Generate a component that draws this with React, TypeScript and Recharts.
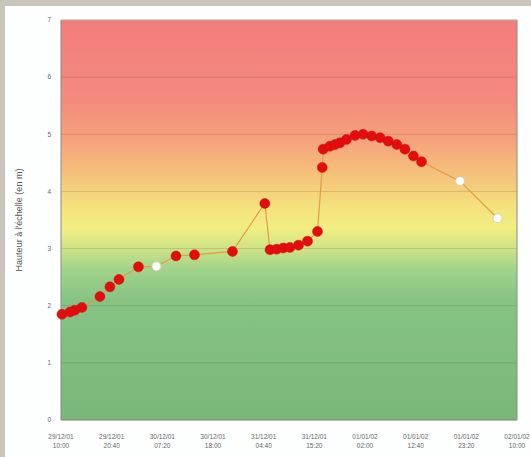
import { CartesianGrid, ComposedChart, Line, ReferenceLine, XAxis, YAxis } from "recharts";

// hours since 29/12/01 10:00, water level (m), and whether the reading is an estimate (white dot)
const hours = [
  0.2, 1.9, 2.9, 4.4, 8.2, 10.3, 12.2, 16.3, 20.1, 24.2, 28.1, 36.1, 42.9, 44, 45.4, 46.8, 48.2, 50,
  51.9, 54, 55, 55.2, 56.6, 57.7, 58.7, 60.1, 61.9, 63.6, 65.4, 67.2, 68.9, 70.7, 72.4, 74.2, 75.9,
  84, 91.9,
];
const levels = [
  1.85, 1.89, 1.92, 1.97, 2.16, 2.33, 2.46, 2.68, 2.69, 2.87, 2.89, 2.95, 3.79, 2.98, 2.99, 3.01,
  3.02, 3.06, 3.13, 3.3, 4.42, 4.74, 4.79, 4.82, 4.85, 4.91, 4.98, 5.0, 4.97, 4.94, 4.88, 4.82, 4.74,
  4.62, 4.52, 4.18, 3.53,
];
const estimated = [8, 35, 36];

const xTickLabels = [
  ["29/12/01", "10:00"],
  ["29/12/01", "20:40"],
  ["30/12/01", "07:20"],
  ["30/12/01", "18:00"],
  ["31/12/01", "04:40"],
  ["31/12/01", "15:20"],
  ["01/01/02", "02:00"],
  ["01/01/02", "12:40"],
  ["01/01/02", "23:20"],
  ["02/01/02", "10:00"],
];
const xTicks = xTickLabels.map((_, i) => (i * 96) / 9);
const yTicks = [0, 1, 2, 3, 4, 5, 6, 7];

const data = hours.map((h, i) => ({ h, level: levels[i], est: estimated.includes(i) }));

function XTick({ x, y, index }: any) {
  const [d, t] = xTickLabels[index] ?? ["", ""];
  return (
    <g transform={`translate(${x},${y})`}>
      <text textAnchor="middle" y={11} fontSize={6.5} fill="#666">
        {d}
      </text>
      <text textAnchor="middle" y={20} fontSize={6.5} fill="#666">
        {t}
      </text>
    </g>
  );
}

function Dot({ cx, cy, payload }: any) {
  if (cx == null || cy == null) return null;
  return payload.est ? (
    <circle cx={cx} cy={cy} r={4.5} fill="#ffffff" stroke="#d8d0c0" strokeWidth={1} />
  ) : (
    <circle cx={cx} cy={cy} r={5} fill="#e30d0d" stroke="#cc1010" strokeWidth={0.5} />
  );
}

function YLabel({ viewBox }: any) {
  const cx = 15;
  const cy = viewBox.y + viewBox.height / 2;
  return (
    <text
      x={cx}
      y={cy}
      transform={`rotate(-90 ${cx} ${cy})`}
      textAnchor="middle"
      dominantBaseline="middle"
      fontSize={9}
      fill="#555"
    >
      Hauteur à l'échelle (en m)
    </text>
  );
}

export default function App() {
  return (
    <div
      style={{
        position: "absolute",
        left: 0,
        top: 0,
        width: 531,
        height: 457,
        background: "#c9c5bb",
        fontFamily: "Arial, 'Liberation Sans', sans-serif",
      }}
    >
      <div style={{ position: "absolute", left: 5, top: 6, width: 526, height: 451, background: "#fdfefe" }}>
        <ComposedChart width={526} height={451} data={data} margin={{ top: 14, right: 14, bottom: 5, left: 0 }}>
          <defs>
            <linearGradient id="zones" x1="0" y1="0" x2="0" y2="1">
              <stop offset="0" stopColor="#f47c7d" />
              <stop offset="0.2" stopColor="#f48a7e" />
              <stop offset="0.3" stopColor="#f5a27c" />
              <stop offset="0.38" stopColor="#f5bf7a" />
              <stop offset="0.47" stopColor="#f4e37e" />
              <stop offset="0.52" stopColor="#f1ee82" />
              <stop offset="0.57" stopColor="#cfe486" />
              <stop offset="0.62" stopColor="#a4d48a" />
              <stop offset="0.7" stopColor="#86c484" />
              <stop offset="1" stopColor="#79b679" />
            </linearGradient>
          </defs>
          <CartesianGrid
            vertical={false}
            fill="url(#zones)"
            fillOpacity={1}
            stroke="rgba(90,60,40,0.18)"
            strokeWidth={1}
          />
          <XAxis
            dataKey="h"
            type="number"
            domain={[0, 96]}
            ticks={xTicks}
            interval={0}
            tick={<XTick />}
            tickLine={false}
            axisLine={{ stroke: "#8a8a8a" }}
            height={32}
          />
          <YAxis
            type="number"
            domain={[0, 7]}
            ticks={yTicks}
            interval={0}
            width={56}
            tickLine={false}
            tickMargin={4}
            axisLine={{ stroke: "#8a8a8a" }}
            tick={{ fontSize: 6.5, fill: "#666" }}
            label={<YLabel />}
          />
          <ReferenceLine y={7} stroke="#b8b8b8" />
          <ReferenceLine x={96} stroke="#8a8a8a" />
          <Line
            dataKey="level"
            type="linear"
            stroke="#e39a48"
            strokeWidth={1.2}
            dot={<Dot />}
            activeDot={false}
            isAnimationActive={false}
          />
        </ComposedChart>
      </div>
    </div>
  );
}
